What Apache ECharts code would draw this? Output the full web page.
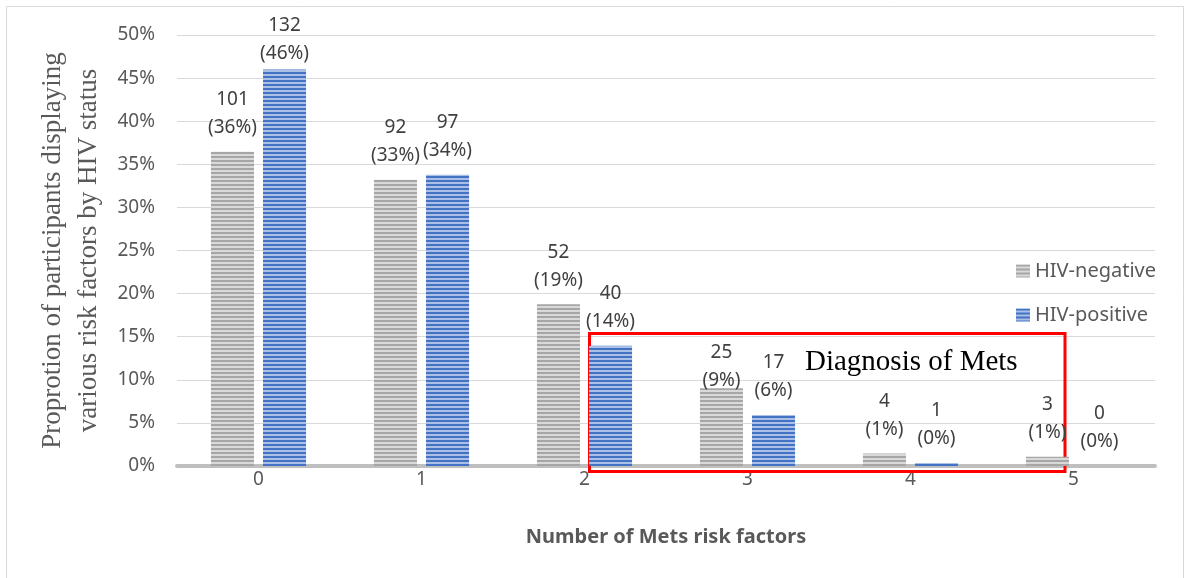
<!DOCTYPE html>
<html>
<head>
<meta charset="utf-8">
<script src="https://cdn.jsdelivr.net/npm/echarts@6/dist/echarts.min.js"></script>
<style>
  html, body { margin: 0; padding: 0; background: #fff; }
  #chart { width: 1185px; height: 578px; }
</style>
</head>
<body>
<div id="chart"></div>
<script>
// Number of metabolic-syndrome risk factors per participant, by HIV status
const riskFactorCounts = ['0', '1', '2', '3', '4', '5'];
const hivNegativeN = [101, 92, 52, 25, 4, 3];
const hivPositiveN = [132, 97, 40, 17, 1, 0];
const seriesNames = ['HIV-negative', 'HIV-positive'];
const yTicks = [0, 5, 10, 15, 20, 25, 30, 35, 40, 45, 50];

const sum = arr => arr.reduce((a, b) => a + b, 0);
const toShare = arr => { const t = sum(arr); return arr.map(v => v / t * 100); };

// Horizontal-stripe fill, like the Excel "horizontal lines" texture
function stripes(dark, light) {
  const c = document.createElement('canvas');
  c.width = 4; c.height = 4;
  const g = c.getContext('2d');
  g.fillStyle = light; g.fillRect(0, 0, 4, 4);
  g.fillStyle = dark; g.fillRect(0, 0, 4, 2);
  return { image: c, repeat: 'repeat' };
}
const greyFill = stripes('#a6a6a6', '#d9d9d9');
const blueFill = stripes('#4472c4', '#a9bfe6');

const textFont = 'Noto Sans';
const textColor = '#595959';

// labelNudge: a few value labels sit lower than the default spot
function barSeries(name, counts, fill, labelNudge) {
  const share = toShare(counts);
  return {
    name: name,
    type: 'bar',
    barWidth: '26.4%',
    barGap: '21%',
    itemStyle: { color: fill },
    data: share.map((v, i) => labelNudge[i]
      ? { value: v, label: { offset: [0, labelNudge[i]] } }
      : v),
    label: {
      show: true,
      position: 'top',
      distance: 10,
      color: '#404040',
      fontFamily: textFont,
      fontSize: 19,
      lineHeight: 28,
      formatter: p => counts[p.dataIndex] + '\n(' + Math.round(share[p.dataIndex]) + '%)'
    }
  };
}

const chart = echarts.init(document.getElementById('chart'));
chart.setOption({
  animation: false,
  backgroundColor: '#fff',
  grid: { left: 177, right: 30, top: 35, bottom: 112 },
  legend: {
    orient: 'vertical',
    left: 1011,
    top: 256,
    itemWidth: 14,
    itemHeight: 13,
    itemGap: 24,
    icon: 'rect',
    textStyle: { color: textColor, fontFamily: textFont, fontSize: 20 },
    data: seriesNames
  },
  xAxis: {
    type: 'category',
    data: riskFactorCounts,
    axisTick: { show: false },
    axisLine: { lineStyle: { color: '#bfbfbf', width: 4 } },
    axisLabel: { color: textColor, fontFamily: textFont, fontSize: 19, margin: 4 },
    name: 'Number of Mets risk factors',
    nameLocation: 'middle',
    nameGap: 61,
    nameTextStyle: { color: textColor, fontFamily: textFont, fontSize: 20, fontWeight: 'bold' }
  },
  yAxis: {
    type: 'value',
    min: yTicks[0],
    max: yTicks[yTicks.length - 1],
    interval: yTicks[1] - yTicks[0],
    axisLine: { show: false },
    axisTick: { show: false },
    splitLine: { lineStyle: { color: '#d9d9d9', width: 1 } },
    axisLabel: { color: textColor, fontFamily: textFont, fontSize: 19, margin: 22, formatter: '{value}%' },
    name: 'Proprotion of participants displaying\nvarious risk factors by HIV status',
    nameLocation: 'middle',
    nameGap: 62,
    nameRotate: 90,
    nameTextStyle: { color: textColor, fontFamily: 'Liberation Serif', fontSize: 27, lineHeight: 36 }
  },
  graphic: [
    {
      type: 'rect', silent: true, z: -10,
      shape: { x: 6.5, y: 6.5, width: 1177, height: 600 },
      style: { fill: null, stroke: '#d9d9d9', lineWidth: 1 }
    },
    {
      type: 'rect', silent: true, z: 1,
      shape: { x: 589.5, y: 333.5, width: 475.5, height: 138 },
      style: { fill: null, stroke: '#ff0000', lineWidth: 3 }
    },
    {
      type: 'text', silent: true, z: 5,
      left: 805, top: 348,
      style: { text: 'Diagnosis of Mets', fill: '#000', font: '29px "Liberation Serif"' }
    }
  ],
  series: [
    barSeries(seriesNames[0], hivNegativeN, greyFill, { 3: 16 }),
    barSeries(seriesNames[1], hivPositiveN, blueFill, { 0: 8 })
  ]
});
</script>
</body>
</html>
